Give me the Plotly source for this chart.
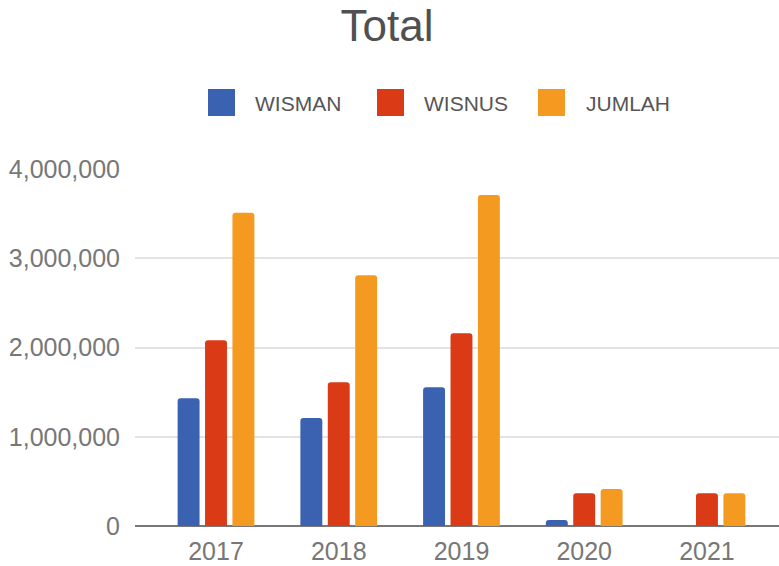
import plotly.graph_objects as go

years = ["2017", "2018", "2019", "2020", "2021"]
series_names = ["WISMAN", "WISNUS", "JUMLAH"]
wisman = [1430000, 1210000, 1555000, 67000, 0]
wisnus = [2080000, 1610000, 2160000, 367000, 367000]
jumlah = [3510000, 2810000, 3710000, 415000, 367000]
y_ticks = [0, 1000000, 2000000, 3000000, 4000000]
y_tick_labels = ["0", "1,000,000", "2,000,000", "3,000,000", "4,000,000"]

colors = ["#3a62b0", "#db3a16", "#f49a20"]
W, H = 779, 566
ML, MR, MT, MB = 135, 0, 169, 40
FONT = "Arial, Liberation Sans, sans-serif"

fig = go.Figure()
for name, vals, c in zip(series_names, [wisman, wisnus, jumlah], colors):
    fig.add_trace(go.Bar(x=years, y=vals, name=name, marker=dict(color=c, line=dict(width=0)),
                         showlegend=False))

def px_x(px):
    return (px - ML) / (W - ML - MR)

def px_y(py):
    return (H - MB - py) / (H - MT - MB)

shapes = []
annotations = []
legend_sq_x = [208, 377, 538]
legend_txt_x = [253, 422, 584]
for name, c, sx, tx in zip(series_names, colors, legend_sq_x, legend_txt_x):
    shapes.append(dict(type="rect", xref="paper", yref="paper",
                       x0=px_x(sx), x1=px_x(sx + 27), y0=px_y(116), y1=px_y(89),
                       fillcolor=c, line=dict(width=0), layer="above"))
    annotations.append(dict(text=name, xref="paper", yref="paper", x=px_x(tx), y=px_y(103),
                            xanchor="left", yanchor="middle", showarrow=False,
                            font=dict(family=FONT, size=21, color="#555555")))

fig.update_layout(
    width=W, height=H,
    margin=dict(l=ML, r=MR, t=MT, b=MB),
    paper_bgcolor="white", plot_bgcolor="white",
    barmode="group", bargap=0.33, bargroupgap=0.2, barcornerradius=3,
    title=dict(text="Total", x=387 / W, xanchor="center", y=1 - 26 / H, yanchor="middle",
               font=dict(family=FONT, size=44, color="#505050")),
    font=dict(family=FONT),
    shapes=shapes, annotations=annotations,
    xaxis=dict(range=[-0.66, 4.587], showgrid=False, showline=False, ticks="",
               ticklabelstandoff=8,
               tickfont=dict(family=FONT, size=25, color="#777777")),
    yaxis=dict(range=[0, 4000000], tickvals=y_ticks, ticktext=y_tick_labels,
               showgrid=True, gridcolor="#e3e3e3", gridwidth=1.5,
               zeroline=True, zerolinecolor="#777777", zerolinewidth=2,
               showline=False, ticks="", ticklabelstandoff=14,
               tickfont=dict(family=FONT, size=25, color="#777777")),
)

fig.write_html("out.html", config={"displayModeBar": False},
               post_script="document.body.style.margin='0';document.body.style.overflow='hidden';")
